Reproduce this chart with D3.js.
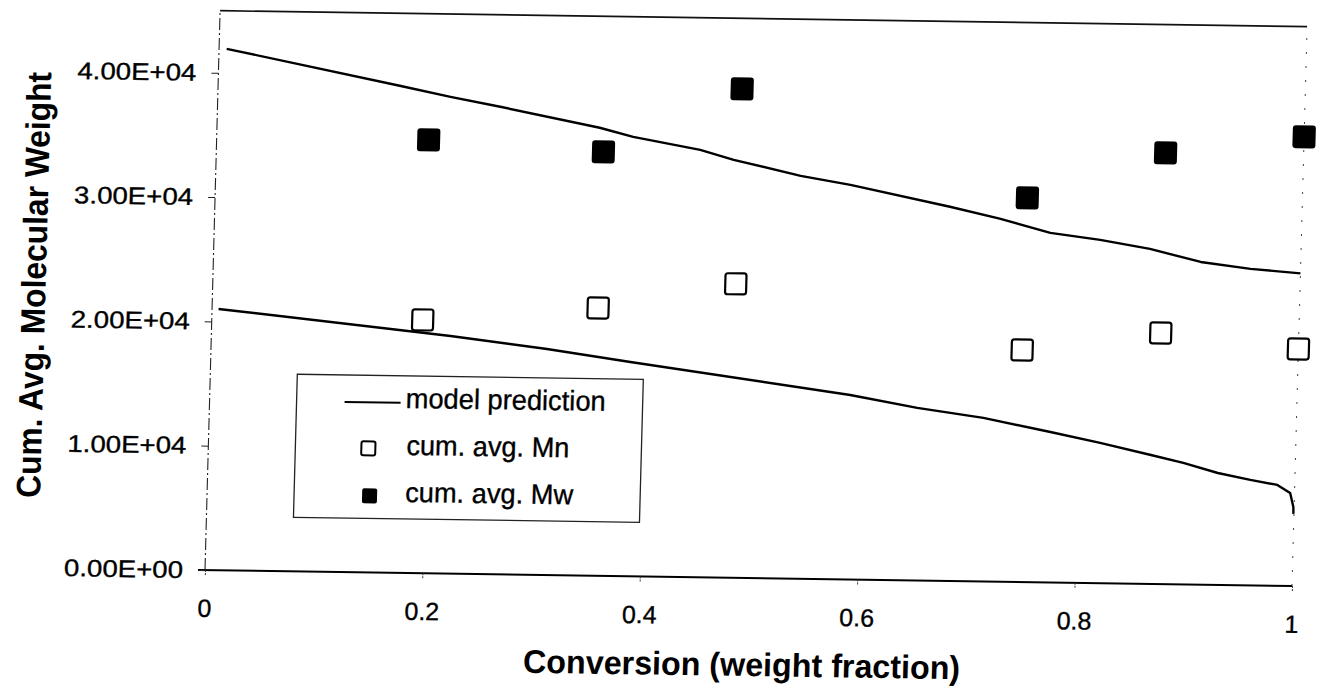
<!DOCTYPE html>
<html lang="en">
<head>
  <meta charset="UTF-8">
  <title>Cum. Avg. Molecular Weight</title>
  <style>
    body { margin: 0; background: #fff; }
    svg text { font-family: 'Liberation Sans', Arial, Helvetica, sans-serif; fill: #000; }
    .tick text, .legend text { stroke: #000; stroke-width: 0.35px; }
  </style>
</head>
<body>
  <svg id="svg" width="1320" height="689"></svg>

  <script src="https://d3js.org/d3.v7.min.js"></script>
  <script>
    // model prediction, upper curve (Mw) : [conversion, molecular weight]
    const modelMw = [
      [0.007, 41940], [0.167, 39170], [0.214, 38340], [0.26, 37600], [0.352, 36030],
      [0.383, 35340], [0.445, 34370], [0.476, 33610], [0.538, 32400], [0.584, 31740],
      [0.676, 30090], [0.722, 29200], [0.769, 28110], [0.815, 27610], [0.861, 26940],
      [0.908, 25950], [0.954, 25450], [1.0, 25150]
    ]
    // model prediction, lower curve (Mn)
    const modelMn = [
      [0.006, 21010], [0.22, 19110], [0.309, 18180], [0.386, 17230], [0.589, 14840],
      [0.651, 13880], [0.712, 13150], [0.774, 12100], [0.82, 11280], [0.867, 10370],
      [0.897, 9770], [0.929, 9000], [0.959, 8480], [0.984, 8110], [0.996, 7470],
      [0.9993, 6360], [0.9995, 5800]
    ]

    // measured points
    const convMn = [0.194, 0.355, 0.481, 0.746, 0.873, 1.0]
    const cumMn = [20370, 21540, 23640, 18660, 20190, 19070]
    const convMw = [0.195, 0.356, 0.482, 0.747, 0.873, 1.0]
    const cumMw = [34860, 34100, 39330, 30900, 34680, 36140]

    const xTicks = [0, 0.2, 0.4, 0.6, 0.8, 1]
    const yTicks = [0, 10000, 20000, 30000, 40000]
    const legendLabels = ['model prediction', 'cum. avg. Mn', 'cum. avg. Mw']

    const xScale = d3.scaleLinear()
      .domain([0, 1])
      .range([205, 1292])

    const yScale = d3.scaleLinear()
      .domain([0, 45000])
      .range([570, 570 - 559.35])

    // excel style exponent: 4.00E+04
    const sci = v => {
      const parts = v.toExponential(2).split('e')
      const e = +parts[1]
      return parts[0] + 'E' + (e < 0 ? '-' : '+') + String(Math.abs(e)).padStart(2, '0')
    }

    const svg = d3.select('#svg')

    // the scanned figure is slightly skewed, so the whole chart sits in a sheared group
    const chart = svg.append('g')
      .attr('transform', 'matrix(1, 0.0147, -0.027, 1, 15.39, -3.01)')

    // frame
    chart.append('line')
      .attr('x1', xScale(0)).attr('x2', xScale(1))
      .attr('y1', yScale(45000)).attr('y2', yScale(45000))
      .attr('stroke', '#111').attr('stroke-width', 1.6)

    chart.append('line')
      .attr('x1', xScale(0)).attr('x2', xScale(0))
      .attr('y1', yScale(0)).attr('y2', yScale(45000))
      .attr('stroke', '#222').attr('stroke-width', 1.1)
      .attr('stroke-dasharray', '12,3,2,3')

    chart.append('line')
      .attr('x1', xScale(1)).attr('x2', xScale(1))
      .attr('y1', yScale(0)).attr('y2', yScale(45000))
      .attr('stroke', '#444').attr('stroke-width', 1)
      .attr('stroke-dasharray', '2,12')

    chart.append('line')
      .attr('x1', xScale(0) - 7).attr('x2', xScale(1))
      .attr('y1', yScale(0)).attr('y2', yScale(0))
      .attr('stroke', '#000').attr('stroke-width', 2)

    // y axis
    const yAxis = chart.append('g')
      .attr('transform', `translate(${xScale(0)},0)`)
      .call(d3.axisLeft(yScale).tickValues(yTicks).tickSize(7).tickPadding(15).tickFormat(sci))
    yAxis.select('.domain').remove()
    yAxis.selectAll('line').attr('stroke', '#222').attr('stroke-width', 1)
    yAxis.selectAll('text')
      .style('font-size', '24px')
      .attr('textLength', 119)
      .attr('lengthAdjust', 'spacingAndGlyphs')

    // x axis
    const xAxis = chart.append('g')
      .attr('transform', `translate(0,${yScale(0)})`)
      .call(d3.axisBottom(xScale).tickValues(xTicks).tickSize(6).tickPadding(23).tickFormat(d => String(d)))
    xAxis.select('.domain').remove()
    xAxis.selectAll('line').attr('stroke', '#333').attr('stroke-width', 1).attr('stroke-dasharray', '2,1')
    xAxis.selectAll('text').style('font-size', '25px')

    // model curves
    const line = d3.line()
      .x(d => xScale(d[0]))
      .y(d => yScale(d[1]))

    chart.selectAll('path.model')
      .data([modelMw, modelMn])
      .enter()
      .append('path')
      .attr('class', 'model')
      .attr('d', d => line(d))
      .attr('fill', 'none')
      .attr('stroke', '#000')
      .attr('stroke-width', 2.4)
      .attr('stroke-linejoin', 'round')

    // measured points
    const mnData = convMn.map((c, i) => [c, cumMn[i]])
    const mwData = convMw.map((c, i) => [c, cumMw[i]])
    const s = 21

    chart.selectAll('rect.mn')
      .data(mnData)
      .enter()
      .append('rect')
      .attr('class', 'mn')
      .attr('x', d => xScale(d[0]) - s / 2)
      .attr('y', d => yScale(d[1]) - s / 2)
      .attr('width', s).attr('height', s)
      .attr('rx', 2.5)
      .attr('fill', '#fff')
      .attr('stroke', '#000')
      .attr('stroke-width', 2.2)

    chart.selectAll('rect.mw')
      .data(mwData)
      .enter()
      .append('rect')
      .attr('class', 'mw')
      .attr('x', d => xScale(d[0]) - s / 2 - 1)
      .attr('y', d => yScale(d[1]) - s / 2 - 1)
      .attr('width', s + 2).attr('height', s + 2)
      .attr('rx', 3)
      .attr('fill', '#000')

    // legend
    const legend = chart.append('g').attr('class', 'legend')
    legend.append('rect')
      .attr('x', 292).attr('y', 373)
      .attr('width', 346).attr('height', 143)
      .attr('fill', '#fff')
      .attr('stroke', '#222').attr('stroke-width', 1.3)

    legend.append('line')
      .attr('x1', 340).attr('x2', 396)
      .attr('y1', 400).attr('y2', 400)
      .attr('stroke', '#000').attr('stroke-width', 2)

    legend.append('rect')
      .attr('x', 358).attr('y', 439)
      .attr('width', 14).attr('height', 14)
      .attr('rx', 2)
      .attr('fill', '#fff').attr('stroke', '#000').attr('stroke-width', 2)

    legend.append('rect')
      .attr('x', 360).attr('y', 486)
      .attr('width', 15).attr('height', 15)
      .attr('rx', 2)
      .attr('fill', '#000')

    const legendWidths = [200, 163, 168]
    legend.selectAll('text')
      .data(legendLabels)
      .enter()
      .append('text')
      .text(d => d)
      .attr('x', (d, i) => i === 0 ? 401 : 403)
      .attr('y', (d, i) => [405, 452, 499][i])
      .attr('textLength', (d, i) => legendWidths[i])
      .attr('lengthAdjust', 'spacingAndGlyphs')
      .style('font-size', '28px')

    // axis titles
    chart.append('text')
      .text('Conversion (weight fraction)')
      .attr('x', 744)
      .attr('y', 668)
      .attr('text-anchor', 'middle')
      .attr('textLength', 437)
      .attr('lengthAdjust', 'spacingAndGlyphs')
      .style('font-size', '33px')
      .style('font-weight', 'bold')

    chart.append('text')
      .text('Cum. Avg. Molecular Weight')
      .attr('transform', 'translate(38,287.5) rotate(-90)')
      .attr('text-anchor', 'middle')
      .attr('textLength', 426)
      .attr('lengthAdjust', 'spacingAndGlyphs')
      .style('font-size', '34px')
      .style('font-weight', 'bold')
  </script>
</body>
</html>
